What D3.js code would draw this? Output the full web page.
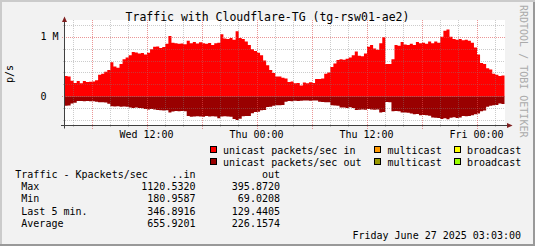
<!DOCTYPE html>
<html>
<head>
<meta charset="utf-8">
<script src="https://cdn.jsdelivr.net/npm/d3@7"></script>
<style>
    body { margin: 0; background: #f2f2f2; }
    svg { display: block; font-family: "DejaVu Sans Mono", monospace; }
</style>
</head>
<body>
<svg id="chart" width="535" height="246"></svg>
<script>
    // graph window: 48h ending Friday June 27 2025 03:03, one sample every 20 min
    var startTime = "2025-06-25T03:03:00Z",
        endTime = "2025-06-27T03:03:00Z",
        stepMinutes = 20;

    // unicast packets/sec in, thousands
    var inValues = [
        340, 330, 260, 225, 255, 220, 255, 240, 245, 250,
        270, 360, 380, 410, 440, 570, 500, 480, 540, 620,
        650, 690, 745, 735, 720, 725, 700, 730, 790, 830,
        835, 810, 825, 880, 1010, 900, 890, 880, 885, 875,
        930, 890, 910, 885, 905, 890, 880, 895, 860, 890,
        900, 1040, 970, 960, 980, 950, 1090, 980, 960, 920,
        860, 790, 760, 730, 690, 600, 520, 440, 390, 330,
        330, 310, 300, 240, 250, 220, 225, 181, 230, 220,
        235, 225, 290, 290, 300, 380, 400, 490, 550, 610,
        620, 615, 630, 650, 690, 750, 680, 670, 720, 830,
        860, 800, 780, 890, 990, 540, 540, 620, 860, 850,
        910, 870, 860, 880, 860, 910, 890, 900, 880, 920,
        890, 920, 900, 1000, 1100, 1120, 1000, 960, 950, 960,
        940, 950, 930, 900, 820, 700, 560, 540, 470, 450,
        380, 360, 340, 347
    ];

    // unicast packets/sec out, thousands (drawn below zero)
    var outValues = [
        160, 155, 120, 110, 80, 80, 85, 80, 82, 85,
        90, 100, 100, 105, 125, 165, 170, 165, 175, 170,
        175, 190, 195, 190, 195, 200, 215, 220, 215, 220,
        230, 235, 240, 235, 270, 255, 245, 250, 245, 250,
        330, 345, 340, 335, 340, 345, 330, 340, 335, 340,
        370, 340, 335, 340, 345, 380, 396, 375, 335, 330,
        330, 285, 265, 260, 235, 230, 180, 175, 160, 150,
        150, 145, 90, 80, 85, 75, 80, 75, 70, 69,
        75, 72, 70, 90, 95, 100, 100, 150, 155, 160,
        190, 190, 195, 185, 195, 230, 225, 220, 225, 215,
        220, 225, 220, 270, 265, 95, 100, 250, 245, 250,
        270, 270, 275, 290, 300, 295, 320, 315, 320, 325,
        355, 360, 365, 380, 370, 385, 360, 350, 365, 355,
        330, 335, 330, 320, 300, 290, 250, 240, 175, 160,
        150, 145, 120, 129
    ];

    var yMajorTicks = [0, 1000000],
        yMajorLabels = ["0", "1 M"];

    var legendNames = [["unicast packets/sec in", "multicast", "broadcast"],
                       ["unicast packets/sec out", "multicast", "broadcast"]],
        legendColors = [["#ff0000", "#ff9900", "#ffff00"],
                        ["#990000", "#999900", "#99ff00"]];

    var statHeader = ["Traffic - Kpackets/sec", "..in", "out"],
        statLabels = ["Max", "Min", "Last 5 min.", "Average"],
        statIn = ["1120.5320", "180.9587", "346.8916", "655.9201"],
        statOut = ["395.8720", "69.0208", "129.4405", "226.1574"];

    var titleText = "Traffic with Cloudflare-TG (tg-rsw01-ae2)",
        dateText = "Friday June 27 2025 03:03:00",
        watermark = "RRDTOOL / TOBI OETIKER";

    var W = 535, H = 246,
        plot = {left: 64.5, right: 504.5, top: 20, bottom: 125.5},
        svg = d3.select("#chart");

    // background + shade frame
    svg.append("rect").attr("width", W).attr("height", H).attr("fill", "#f2f2f2");
    svg.append("path").attr("d", "M0,0H535V2H2V246H0Z").attr("fill", "#cbcbcb");
    svg.append("path").attr("d", "M535,0V246H0V244H533V2H535Z").attr("fill", "#999999");

    var t0 = new Date(startTime), t1 = new Date(endTime);
    var x = d3.scaleUtc().domain([t0, t1]).range([plot.left, plot.right]);
    var y = d3.scaleLinear().domain([-490000, 1280000]).range([plot.bottom, plot.top]);

    svg.append("rect")
        .attr("x", plot.left).attr("y", plot.top)
        .attr("width", plot.right - plot.left + 0.5).attr("height", plot.bottom - plot.top)
        .attr("fill", "#ffffff");

    function toPoints(vals) {
        var pts = vals.map(function (v, i) {
            return {t: new Date(t0.getTime() + i * stepMinutes * 60000), v: v * 1000};
        });
        pts.push({t: t1, v: vals[vals.length - 1] * 1000});
        return pts;
    }

    var inArea = d3.area().curve(d3.curveStepAfter)
        .x(function (d) { return x(d.t); })
        .y0(y(0))
        .y1(function (d) { return y(d.v); });
    var outArea = d3.area().curve(d3.curveStepAfter)
        .x(function (d) { return x(d.t); })
        .y0(y(0))
        .y1(function (d) { return y(-d.v); });

    svg.append("path").datum(toPoints(inValues)).attr("d", inArea).attr("fill", "#ff0000");
    svg.append("path").datum(toPoints(outValues)).attr("d", outArea).attr("fill", "#990000");

    // grid, drawn over the data like rrdtool does
    var grid = svg.append("g").attr("shape-rendering", "crispEdges");
    var minorY = d3.range(-400000, 1200001, 200000).filter(function (v) {
        return yMajorTicks.indexOf(v) < 0;
    });
    grid.selectAll(".hmin").data(minorY).enter().append("line")
        .attr("x1", plot.left - 2).attr("x2", plot.right)
        .attr("y1", function (d) { return Math.round(y(d)) + 0.5; })
        .attr("y2", function (d) { return Math.round(y(d)) + 0.5; })
        .attr("stroke", "rgba(128,128,128,0.4)").attr("stroke-dasharray", "1,1");
    grid.selectAll(".hmaj").data(yMajorTicks).enter().append("line")
        .attr("x1", plot.left - 3).attr("x2", plot.right)
        .attr("y1", function (d) { return Math.round(y(d)) + 0.5; })
        .attr("y2", function (d) { return Math.round(y(d)) + 0.5; })
        .attr("stroke", "rgba(222,80,80,0.6)").attr("stroke-dasharray", "1,1");

    var minorX = d3.utcHour.every(2).range(t0, t1).filter(function (d) { return d.getUTCHours() % 6 !== 0; });
    var majorX = d3.utcHour.every(6).range(t0, t1);
    grid.selectAll(".vmin").data(minorX).enter().append("line")
        .attr("x1", function (d) { return Math.round(x(d)) + 0.5; })
        .attr("x2", function (d) { return Math.round(x(d)) + 0.5; })
        .attr("y1", plot.top).attr("y2", plot.bottom + 2)
        .attr("stroke", "rgba(128,128,128,0.4)").attr("stroke-dasharray", "1,1");
    grid.selectAll(".vmaj").data(majorX).enter().append("line")
        .attr("x1", function (d) { return Math.round(x(d)) + 0.5; })
        .attr("x2", function (d) { return Math.round(x(d)) + 0.5; })
        .attr("y1", plot.top).attr("y2", plot.bottom + 3)
        .attr("stroke", "rgba(222,80,80,0.6)").attr("stroke-dasharray", "1,1");

    // axes + arrows
    svg.append("line").attr("x1", plot.left).attr("x2", plot.left)
        .attr("y1", 18).attr("y2", 128.5).attr("stroke", "#404040");
    svg.append("line").attr("x1", 61).attr("x2", 508)
        .attr("y1", plot.bottom).attr("y2", plot.bottom).attr("stroke", "#404040");
    svg.append("path").attr("d", "M62,22L64.5,16.5L67,22Z").attr("fill", "#7f1f1f");
    svg.append("path").attr("d", "M507,123L512.5,125.5L507,128Z").attr("fill", "#7f1f1f");

    // tick labels
    var labelTicks = d3.utcHour.every(12).range(t0, t1);
    svg.selectAll(".xl").data(labelTicks).enter().append("text")
        .attr("x", function (d) { return x(d); }).attr("y", 138)
        .attr("text-anchor", "middle").attr("font-size", 10)
        .text(d3.utcFormat("%a %H:%M"));
    svg.selectAll(".yl").data(yMajorTicks).enter().append("text")
        .attr("x", 40.5).attr("y", function (d) { return y(d) + 3.5; })
        .attr("font-size", 10)
        .text(function (d, i) { return yMajorLabels[i]; });

    svg.append("text").attr("transform", "translate(13,74) rotate(-90)")
        .attr("text-anchor", "middle").attr("font-size", 10).text("p/s");

    svg.append("text").attr("x", W / 2).attr("y", 20.5)
        .attr("text-anchor", "middle").attr("font-size", 11.5).text(titleText);

    svg.append("text").attr("transform", "translate(519.5,5) rotate(90)")
        .attr("font-size", 10).attr("fill", "#aaaaaa").text(watermark);

    // legend
    var swatchX = [210.5, 374.5, 454.5], textX = [223, 387.5, 467], rowY = [153.5, 165.5];
    legendNames.forEach(function (row, r) {
        row.forEach(function (name, c) {
            svg.append("rect").attr("x", swatchX[c]).attr("y", rowY[r] - 7)
                .attr("width", 6).attr("height", 6)
                .attr("fill", legendColors[r][c]).attr("stroke", "#000");
            svg.append("text").attr("x", textX[c]).attr("y", rowY[r])
                .attr("font-size", 10).text(name);
        });
    });

    // stats table
    var statY = [177.5, 190, 202.3, 214.7, 227];
    svg.append("text").attr("x", 15.3).attr("y", statY[0]).attr("font-size", 10).text(statHeader[0]);
    svg.append("text").attr("x", 195.5).attr("y", statY[0]).attr("font-size", 10)
        .attr("text-anchor", "end").text(statHeader[1]);
    svg.append("text").attr("x", 280).attr("y", statY[0]).attr("font-size", 10)
        .attr("text-anchor", "end").text(statHeader[2]);
    statLabels.forEach(function (lab, i) {
        svg.append("text").attr("x", 21.3).attr("y", statY[i + 1]).attr("font-size", 10).text(lab);
        svg.append("text").attr("x", 195.5).attr("y", statY[i + 1]).attr("font-size", 10)
            .attr("text-anchor", "end").text(statIn[i]);
        svg.append("text").attr("x", 280).attr("y", statY[i + 1]).attr("font-size", 10)
            .attr("text-anchor", "end").text(statOut[i]);
    });

    svg.append("text").attr("x", 521).attr("y", 239).attr("font-size", 10)
        .attr("text-anchor", "end").text(dateText);
</script>
</body>
</html>
